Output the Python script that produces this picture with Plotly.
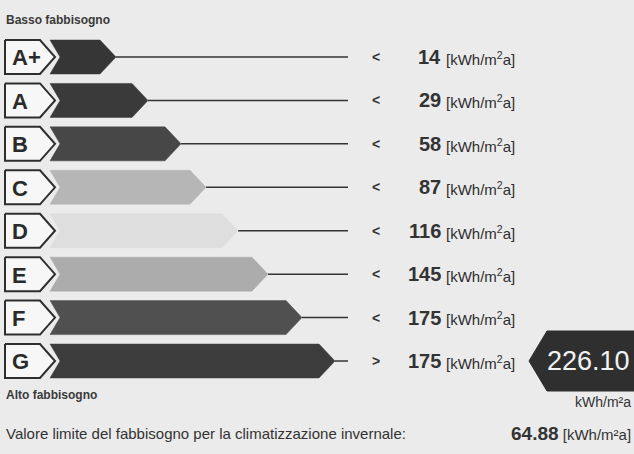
import plotly.graph_objects as go

# ---------------- data ----------------
classes = ["A+", "A", "B", "C", "D", "E", "F", "G"]
limits = [14, 29, 58, 87, 116, 145, 175, 175]
signs = ["<", "<", "<", "<", "<", "<", "<", ">"]
bar_ends = [116, 148, 181, 206, 238, 268, 302, 335]
bar_colors = ["#363636", "#3a3a3a", "#474747", "#b6b6b6", "#dedede", "#acacac", "#505050", "#3c3c3c"]
unit = "[kWh/m<sup>2</sup>a]"
result_value = 226.10
result_class = "G"
limit_value = 64.88
top_label = "Basso fabbisogno"
bottom_label = "Alto fabbisogno"
footer_label = "Valore limite del fabbisogno per la climatizzazione invernale:"

# ---------------- geometry (style) ----------------
W, H = 634, 454
ROW0_PX, ROW_PX = 57, 43.43
Y_TOP = -ROW0_PX / ROW_PX
Y_BOT = Y_TOP + H / ROW_PX
HALF = 17 / ROW_PX
BAR_X0, NOTCH, TIP = 50, 10, 16
BOX_X0, BOX_X1, BOX_TIP = 5, 40, 55
LINE_END = 348

def py(px):
    return (px - ROW0_PX) / ROW_PX

BG = "#ebebeb"
DARK = "#2e2e2e"
FONT = "Liberation Sans, Arial"

fig = go.Figure()

for i, (c, end, col) in enumerate(zip(classes, bar_ends, bar_colors)):
    t, b = i - HALF, i + HALF
    fig.add_trace(go.Scatter(
        x=[BOX_X0, BOX_X1, BOX_TIP, BOX_X1, BOX_X0, BOX_X0],
        y=[t, t, i, b, b, t], mode="lines", fill="toself",
        fillcolor="#f7f7f7", line=dict(color=DARK, width=2),
        hoverinfo="skip", showlegend=False))
    fig.add_trace(go.Scatter(
        x=[end, LINE_END], y=[i, i], mode="lines",
        line=dict(color="#333333", width=1.5), hoverinfo="skip", showlegend=False))
    fig.add_trace(go.Scatter(
        x=[BAR_X0, end - TIP, end, end - TIP, BAR_X0, BAR_X0 + NOTCH, BAR_X0],
        y=[t, t, i, b, b, i, t], mode="lines", fill="toself",
        fillcolor=col, line=dict(color=col, width=0.5),
        hoverinfo="skip", showlegend=False))

annotations = []
for i, (c, lim, s) in enumerate(zip(classes, limits, signs)):
    annotations.append(dict(x=10, y=i + 0.02, xref="x", yref="y", text=f"<b>{c}</b>",
                            showarrow=False, xanchor="left", yanchor="middle",
                            font=dict(family=FONT, size=22, color="#2a2a2a")))
    annotations.append(dict(x=376, y=i, xref="x", yref="y", text=f"<b>{s}</b>",
                            showarrow=False, xanchor="center", yanchor="middle",
                            font=dict(family=FONT, size=14, color="#333333")))
    annotations.append(dict(x=443, y=i, xref="x", yref="y", text=f"<b>{lim}</b>",
                            showarrow=False, xanchor="right", yanchor="middle",
                            font=dict(family=FONT, size=20, color="#333333")))
    annotations.append(dict(x=444, y=i + 0.03, xref="x", yref="y", text=unit,
                            showarrow=False, xanchor="left", yanchor="middle",
                            font=dict(family=FONT, size=15, color="#2e2e2e")))

ri = classes.index(result_class)
rh = 30 / ROW_PX
fig.add_trace(go.Scatter(
    x=[529, 547, 640, 640, 547, 529], y=[ri, ri - rh, ri - rh, ri + rh, ri + rh, ri],
    mode="lines", fill="toself", fillcolor="#2f2f2f", line=dict(color="#2f2f2f", width=1),
    hoverinfo="skip", showlegend=False))
annotations.append(dict(x=588, y=ri, xref="x", yref="y", text=f"{result_value:.2f}",
                        showarrow=False, xanchor="center", yanchor="middle",
                        font=dict(family=FONT, size=27, color="#f2f2f2")))
annotations.append(dict(x=633, y=py(402), xref="x", yref="y", text="kWh/m²a",
                        showarrow=False, xanchor="right", yanchor="middle",
                        font=dict(family=FONT, size=14, color="#333333")))

annotations.append(dict(x=4, y=py(20), xref="x", yref="y", text=f"<b>{top_label}</b>",
                        showarrow=False, xanchor="left", yanchor="middle",
                        font=dict(family=FONT, size=12, color="#3a3a3a")))
annotations.append(dict(x=4, y=py(395), xref="x", yref="y", text=f"<b>{bottom_label}</b>",
                        showarrow=False, xanchor="left", yanchor="middle",
                        font=dict(family=FONT, size=12, color="#3a3a3a")))
annotations.append(dict(x=4, y=py(433), xref="x", yref="y", text=footer_label,
                        showarrow=False, xanchor="left", yanchor="middle",
                        font=dict(family=FONT, size=15, color="#333333")))
annotations.append(dict(x=633, y=py(433), xref="x", yref="y",
                        text=f"<b><span style='font-size:19px'>{limit_value:.2f}</span></b> [kWh/m²a]",
                        showarrow=False, xanchor="right", yanchor="middle",
                        font=dict(family=FONT, size=15, color="#333333")))

fig.update_layout(
    width=W, height=H, margin=dict(l=0, r=0, t=0, b=0),
    paper_bgcolor=BG, plot_bgcolor=BG,
    xaxis=dict(range=[0, W], visible=False, fixedrange=True),
    yaxis=dict(range=[Y_BOT, Y_TOP], visible=False, fixedrange=True),
    annotations=annotations, showlegend=False,
)

fig.write_html("out.html", config={"displayModeBar": False},
               post_script="document.body.style.margin='0';document.body.style.overflow='hidden';")
